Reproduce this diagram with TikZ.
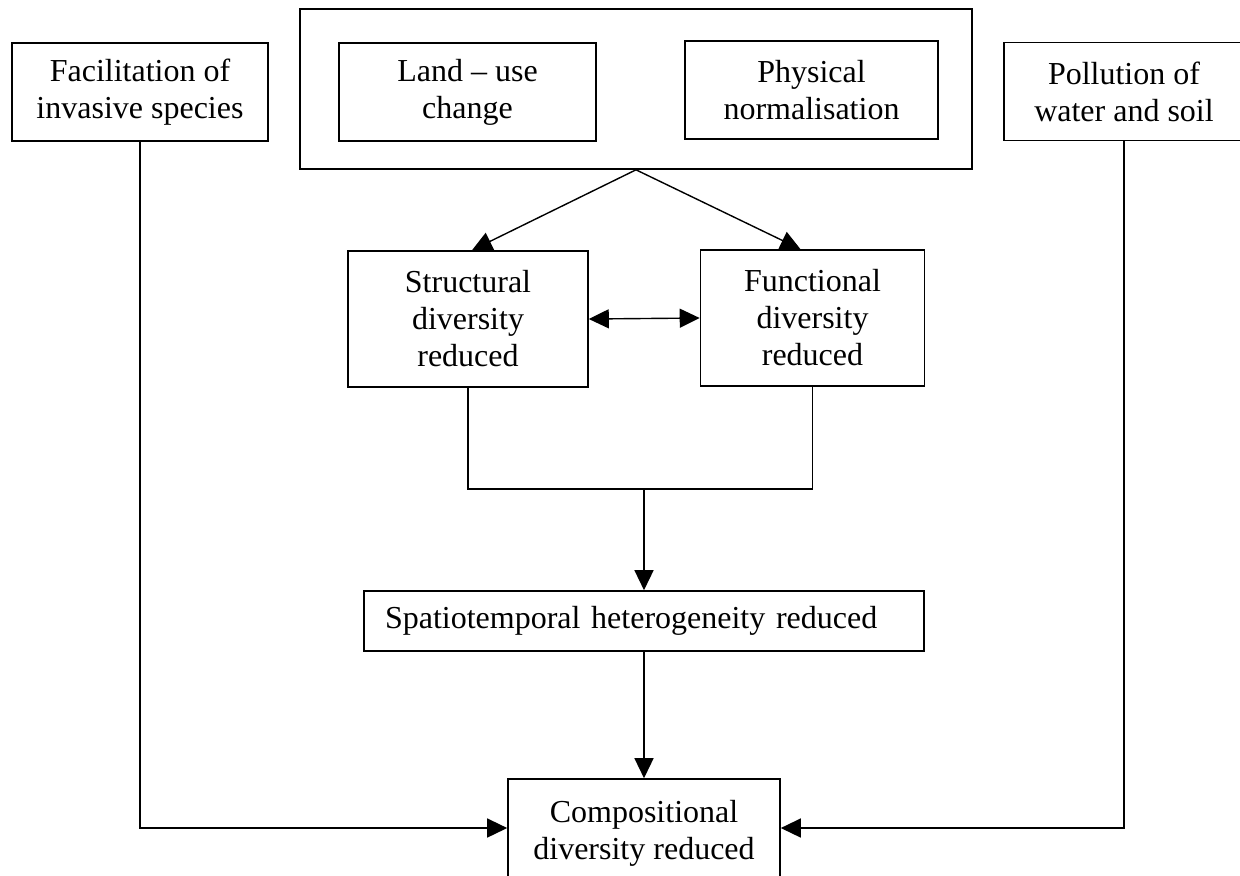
\documentclass[tikz,border=0pt]{standalone}
\usepackage{fontspec}
\setmainfont{Liberation Serif}
\usetikzlibrary{arrows.meta,calc}

\begin{document}
\begin{tikzpicture}[
  x=0.5pt, y=-0.5pt,
  box/.style={draw, line width=0.8pt, inner sep=0pt, align=center,
    font=\fontsize{16pt}{18.5pt}\selectfont},
  link/.style={line width=0.7pt},
  arr/.style={link, -{Triangle[length=10pt,width=9.5pt]}},
  dblarr/.style={link, {Triangle[length=10pt,width=9.5pt]}-{Triangle[length=10pt,width=9.5pt]}}
]
\useasboundingbox (0,0) rectangle (1240,875);

% drivers along the top
\node[box, minimum width=128pt, minimum height=49pt] (fac) at (140,92)
  {Facilitation of\\invasive species};
\node[box, minimum width=336pt, minimum height=80pt] (outer) at (636,89) {};
\node[box, minimum width=128.5pt, minimum height=49pt] (land) at (467.5,92)
  {Land – use\\change};
\node[box, minimum width=126.5pt, minimum height=49pt] (phys) at (811.5,90)
  {Physical\\normalisation};
\node[box, minimum width=120pt, minimum height=49pt] (poll) at (1124,91.5)
  {Pollution of\\water and soil};

% diversity components
\node[box, minimum width=120pt, minimum height=68pt] (struct) at (468,319)
  {Structural\\diversity\\reduced};
\node[box, minimum width=112pt, minimum height=68pt] (func) at (812.5,318)
  {Functional\\diversity\\reduced};

\node[box, inner xsep=10.5pt, text width=259pt, align=left, minimum height=30pt]
  (spatio) at (644,621) {Spatiotemporal heterogeneity reduced};

\node[box, minimum width=136pt, minimum height=54pt] (comp) at (644,833)
  {Compositional\\diversity reduced};

\coordinate (join) at (644,489);

% connectors
\draw[arr] (outer.south) -- ($(struct.north)+(4,0)$);
\draw[arr] (outer.south) -- ($(func.north)+(-12,0)$);
\draw[dblarr] (struct.east) -- (func.west);
\draw[link] (struct.south) -- (struct.south |- join) -- (func.south |- join) -- (func.south);
\draw[arr] (join) -- (spatio.north);
\draw[arr] (spatio.south) -- (comp.north);
\draw[arr] (fac.south) |- ([yshift=2.5pt]comp.west);
\draw[arr] (poll.south) |- ([yshift=2.5pt]comp.east);
\end{tikzpicture}
\end{document}
